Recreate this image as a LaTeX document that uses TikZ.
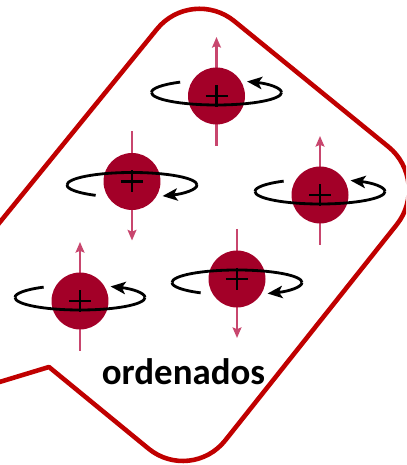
\documentclass[tikz,border=0pt]{standalone}
\usepackage{fontspec}
\newfontfamily\labelfont{Carlito}
\usetikzlibrary{arrows.meta}

\definecolor{outlinered}{RGB}{192,0,0}
\definecolor{ballred}{RGB}{163,0,40}
\definecolor{axispink}{RGB}{200,70,110}

\begin{document}
\begin{tikzpicture}[x=0.02cm, y=0.02cm,
		ballstyle/.style={circle, fill=ballred, minimum size=1.14cm, inner sep=0mm},
		orbitstyle/.style={line width=1.6pt, black},
		axisstyle/.style={line width=1.3pt, axispink, -{Stealth[length=6pt, width=5pt, inset=1pt]}},
		plusstyle/.style={line width=1.4pt, black},
		outlinestyle/.style={line width=2.6pt, outlinered, line join=round},
		atom/.pic={
			\draw [axisstyle] (0,-50) -- (0,59);
			\draw [orbitstyle] (0,3.5) ++(124:65 and 12.5) arc [start angle=124, end angle=180, x radius=65, y radius=12.5];
			\draw [orbitstyle, -{Stealth[length=8.5pt, width=7pt, inset=2pt]}] (0,3.5) ++(0:65 and 12.5) arc [start angle=0, end angle=62, x radius=65, y radius=12.5];
			\node [ballstyle] (-ball) at (0,0) {};
			\draw [plusstyle] (-11,0) -- (11,0) (0,-11) -- (0,11);
			\draw [orbitstyle] (0,3.5) ++(180:65 and 12.5) arc [start angle=180, end angle=360, x radius=65, y radius=12.5];
		}]

	\useasboundingbox (0,0) rectangle (406,465);
	\clip (0,0) rectangle (406,465);

	% speech bubble
	\draw [outlinestyle] (-40,71) -- (49,98) [rounded corners=1.1cm] -- (191,-18.5) -- (431,283.5) -- (191.7,478.6) -- (-40,193.8);

	% spinning nuclei, down spins are mirrored
	\pic (a1) at (216.5,369) {atom};
	\pic [yscale=-1] (a2) at (132,283.5) {atom};
	\pic (a3) at (320,270) {atom};
	\pic (a4) at (80,164) {atom};
	\pic [yscale=-1] (a5) at (237,186) {atom};

	\node [font=\labelfont\bfseries\fontsize{21}{25}\selectfont, anchor=base] (label) at (183.5,80) {ordenados};
\end{tikzpicture}
\end{document}
